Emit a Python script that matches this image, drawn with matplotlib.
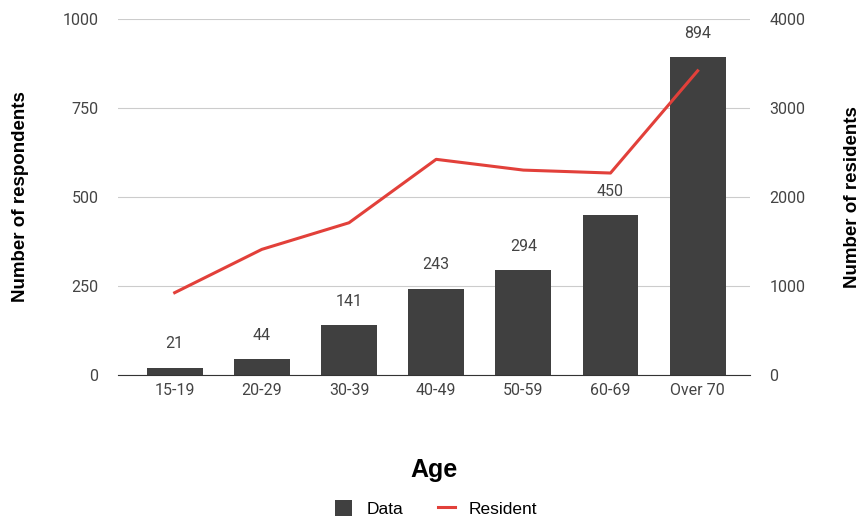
import matplotlib.pyplot as plt
import numpy as np

# datos
edades = ['15-19', '20-29', '30-39', '40-49', '50-59', '60-69', 'Over 70']
encuestados = [21, 44, 141, 243, 294, 450, 894]
residentes = [925, 1412, 1711, 2424, 2303, 2270, 3419]

plt.rcParams['font.family'] = 'Roboto'

fig = plt.figure(figsize=(8.64, 5.17), dpi=100)
ax = fig.add_axes([0.1366, 0.2747, 0.7314, 0.6883])
ax2 = ax.twinx()

x = np.arange(len(edades))
ax.bar(x, encuestados, width=0.64, color='#404040', zorder=2, label='Data')
for xi, v in zip(x, encuestados):
    ax.text(xi, v + 45, str(v), ha='center', va='bottom', fontsize=11.5, color='#444444')

ax2.plot(x, residentes, color='#e2403a', linewidth=2.2, label='Resident')

ax.set_xlim(-0.65, 6.6)
ax.set_ylim(0, 1000)
ax2.set_ylim(0, 4000)
ax.set_yticks([0, 250, 500, 750, 1000])
ax2.set_yticks([0, 1000, 2000, 3000, 4000])
ax.set_xticks(x)
ax.set_xticklabels(edades)

ax.grid(axis='y', color='#cccccc', linewidth=0.8, zorder=0)
ax.set_axisbelow(True)
for a in (ax, ax2):
    for s in a.spines.values():
        s.set_visible(False)
    a.tick_params(length=0, labelsize=11.5, labelcolor='#444444')
ax.spines['bottom'].set_visible(True)
ax.spines['bottom'].set_color('#333333')
ax.tick_params(axis='y', pad=14)
ax2.tick_params(axis='y', pad=14)
ax.tick_params(axis='x', pad=6)

fuente = {'family': 'Liberation Sans', 'weight': 'bold'}
ax.set_ylabel('Number of respondents', fontsize=13.5, fontdict=fuente, labelpad=24)
ax2.set_ylabel('Number of residents', fontsize=13.5, fontdict=fuente, rotation=90, labelpad=28)
ax.set_xlabel('Age', fontsize=18, fontdict=fuente, labelpad=43)

h1, l1 = ax.get_legend_handles_labels()
h2, l2 = ax2.get_legend_handles_labels()
fig.legend(h1 + h2, l1 + l2, loc='lower center', bbox_to_anchor=(0.505, -0.03), ncol=2,
           frameon=False, prop={'family': 'Liberation Sans', 'size': 12.5},
           handlelength=1.0, handleheight=1.0, handletextpad=0.8, columnspacing=2.0)

plt.savefig('out.png')
